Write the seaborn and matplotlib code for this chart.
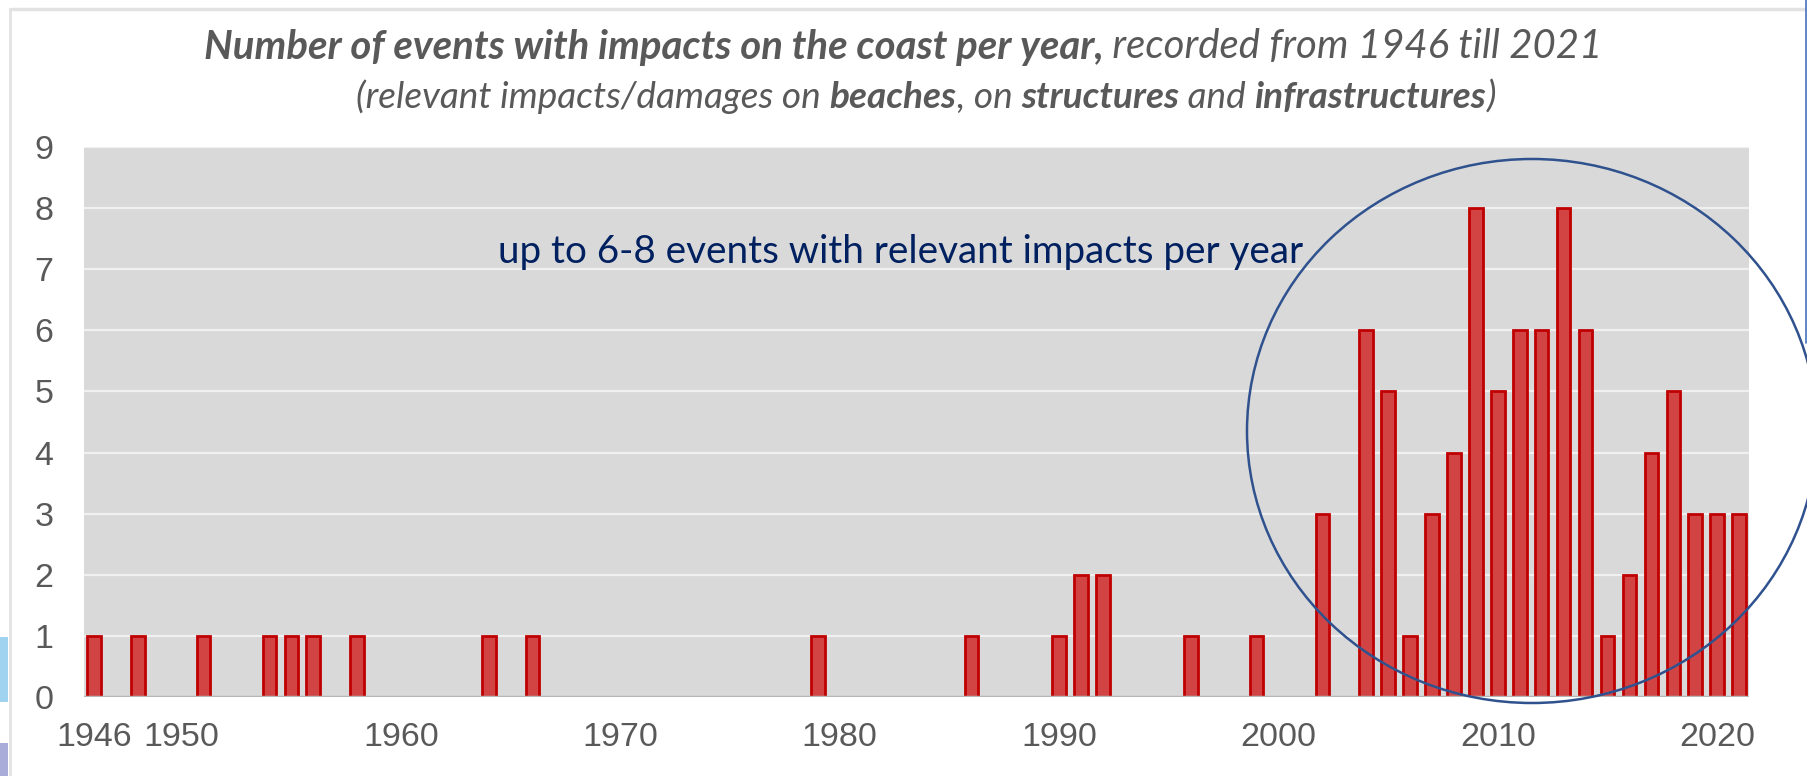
import matplotlib
matplotlib.use("Agg")
import matplotlib.pyplot as plt
from matplotlib.patches import Ellipse, Rectangle
from matplotlib.lines import Line2D
import seaborn as sns
import pandas as pd

# ================================
# Data
# ================================
years = [1946, 1948, 1951, 1954, 1955, 1956, 1958, 1964, 1966, 1979,
         1986, 1990, 1991, 1992, 1996, 1999, 2002, 2004, 2005, 2006,
         2007, 2008, 2009, 2010, 2011, 2012, 2013, 2014, 2015, 2016,
         2017, 2018, 2019, 2020, 2021]
events = [1, 1, 1, 1, 1, 1, 1, 1, 1, 1,
          1, 1, 2, 2, 1, 1, 3, 6, 5, 1,
          3, 4, 8, 5, 6, 6, 8, 6, 1, 2,
          4, 5, 3, 3, 3]
x_ticks = [1946, 1950, 1960, 1970, 1980, 1990, 2000, 2010, 2020]
y_ticks = list(range(0, 10))

title_parts = [("Number of events with impacts on the coast per year,", "bold"),
               (" recorded from 1946 till 2021", "normal")]
subtitle_parts = [("(relevant impacts/damages on ", "normal"), ("beaches", "bold"),
                  (", on ", "normal"), ("structures", "bold"), (" and ", "normal"),
                  ("infrastructures", "bold"), (")", "normal")]
note = "up to 6-8 events with relevant impacts per year"

df = pd.DataFrame({"Year": years, "Events": events})

W, H = 1807, 776
sns.set_style("white")
plt.rcParams["font.family"] = ["Liberation Sans", "DejaVu Sans"]

fig = plt.figure(figsize=(W / 100, H / 100), dpi=100)
fig.patch.set_facecolor("white")

ax = fig.add_axes([84 / W, 1 - 697 / H, (1749 - 84) / W, (697 - 147) / H])
ax.set_facecolor("#d9d9d9")

sns.barplot(data=df, x="Year", y="Events", native_scale=True, width=0.62,
            color="#d24444", saturation=1, edgecolor="#c00000", linewidth=2,
            errorbar=None, ax=ax, zorder=3)

ax.set_xlim(1945.55, 2021.45)
ax.set_ylim(0, 9)
ax.set_xticks(x_ticks)
ax.set_yticks(y_ticks)
ax.set_axisbelow(True)
ax.yaxis.grid(True, color="#f0f0f0", linewidth=1.6)
ax.xaxis.grid(False)
ax.axhline(0, color="#b5b5b5", linewidth=2.5, zorder=4)
for s in ax.spines.values():
    s.set_visible(False)
ax.tick_params(axis="both", length=0, labelsize=24.5, labelcolor="#595959")
ax.tick_params(axis="y", pad=22)
ax.tick_params(axis="x", pad=18)
ax.set_xlabel("")
ax.set_ylabel("")

# annotation inside the plot
ax.text(498 / W, 1 - 252 / H, note, transform=fig.transFigure, color="#002060",
        fontsize=27.8, family=["Lato", "DejaVu Sans"], ha="left", va="center", zorder=6)

# highlight ellipse
fig.patches.append(Ellipse((1532 / W, 1 - 431 / H), 2 * 285 / W, 2 * 272 / H,
                           transform=fig.transFigure, fill=False,
                           edgecolor="#2f528f", linewidth=1.8, zorder=10))


# ================================
# Title lines with mixed bold / italic
# ================================
def rich_line(parts, xc, yc, target_w, color="#595959"):
    r = fig.canvas.get_renderer()
    texts = []
    for s, w in parts:
        t = fig.text(0, 1 - yc / H, s, fontsize=20, fontweight=w, style="italic",
                     color=color, ha="left", va="center",
                     family=["Lato", "DejaVu Sans"])
        texts.append(t)
    total = sum(t.get_window_extent(r).width for t in texts)
    size = 20 * target_w / total
    for t in texts:
        t.set_fontsize(size)
    widths = [t.get_window_extent(r).width for t in texts]
    x = xc - sum(widths) / 2
    for t, w in zip(texts, widths):
        t.set_x(x / W)
        x += w


rich_line(title_parts, 903, 47, 1397)
rich_line(subtitle_parts, 926, 97, 1137)

# slide frame remnants
fig.lines.append(Line2D([10 / W, 1805 / W], [1 - 9 / H, 1 - 9 / H], transform=fig.transFigure,
                        color="#e2e2e2", linewidth=2.5))
fig.lines.append(Line2D([10 / W, 10 / W], [0, 1 - 9 / H], transform=fig.transFigure,
                        color="#e2e2e2", linewidth=2))
fig.lines.append(Line2D([1805.5 / W, 1805.5 / W], [1 - 343 / H, 1], transform=fig.transFigure,
                        color="#4472c4", linewidth=1.2))
fig.patches.append(Rectangle((0, 1 - 702 / H), 8 / W, 65 / H, transform=fig.transFigure,
                             facecolor="#9fd3ef", edgecolor="none"))
fig.patches.append(Rectangle((0, 0), 8 / W, 33 / H, transform=fig.transFigure,
                             facecolor="#a9acd9", edgecolor="none"))

fig.savefig("out.png", dpi=100, facecolor="white")
